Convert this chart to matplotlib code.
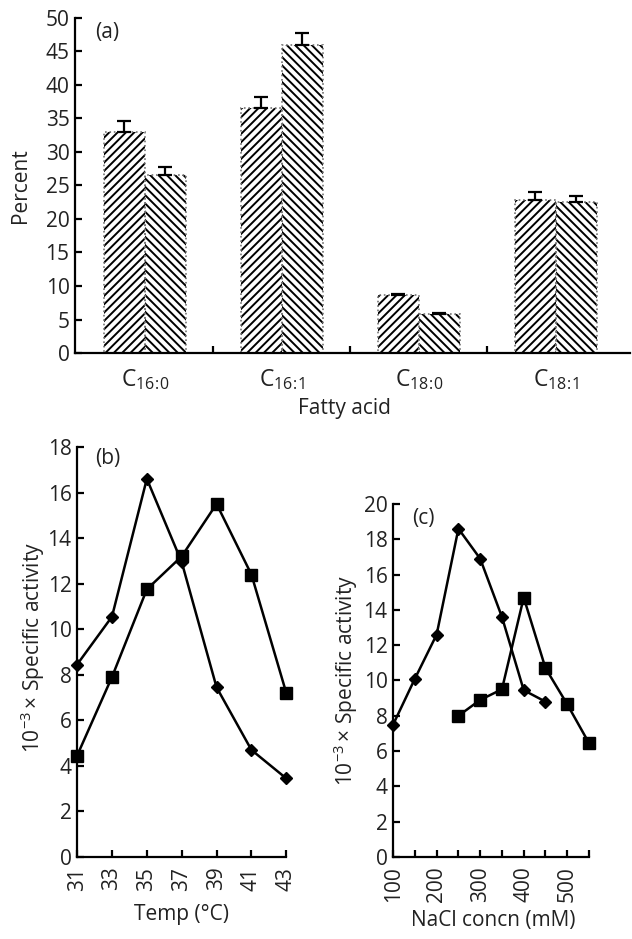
import matplotlib
matplotlib.use('Agg')
import matplotlib.pyplot as plt
import numpy as np

plt.rcParams['font.family'] = ['Open Sans', 'DejaVu Sans']
plt.rcParams['mathtext.default'] = 'regular'
plt.rcParams['hatch.linewidth'] = 1.4
plt.rcParams['font.size'] = 15

# (a) fatty acid composition
acids = ['C$_{16\\!:\\!0}$', 'C$_{16\\!:\\!1}$', 'C$_{18\\!:\\!0}$', 'C$_{18\\!:\\!1}$']
pct_1 = [32.9, 36.5, 8.6, 22.9]
err_1 = [1.7, 1.7, 0.25, 1.1]
pct_2 = [26.6, 46.0, 5.8, 22.6]
err_2 = [1.1, 1.8, 0.15, 0.8]

# (b) temperature
temp = [31, 33, 35, 37, 39, 41, 43]
temp_diamond = [8.45, 10.55, 16.6, 12.95, 7.45, 4.7, 3.45]
temp_square = [4.45, 7.9, 11.75, 13.2, 15.5, 12.4, 7.2]

# (c) NaCl
nacl_diamond_x = [100, 150, 200, 250, 300, 350, 400, 450]
nacl_diamond = [7.5, 10.1, 12.6, 18.6, 16.9, 13.6, 9.45, 8.8]
nacl_square_x = [250, 300, 350, 400, 450, 500, 550]
nacl_square = [8.0, 8.9, 9.5, 14.7, 10.7, 8.65, 6.45]

ylab = '10$^{-3}$\u2009\u00d7 Specific activity'
TXT = '#222222'


def style_axes(ax):
    for s in ['top', 'right']:
        ax.spines[s].set_visible(False)
    for s in ['left', 'bottom']:
        ax.spines[s].set_linewidth(1.6)
    ax.tick_params(direction='in', length=5, width=1.6, labelsize=15,
                   colors='black', labelcolor=TXT, pad=4)


def put_labels(ax, xl, xpos, yl, ypos):
    ax.set_xlabel(xl, fontsize=15, color=TXT)
    ax.xaxis.set_label_coords(*xpos)
    ax.xaxis.label.set_va('center')
    ax.set_ylabel(yl, fontsize=15, color=TXT)
    ax.yaxis.set_label_coords(*ypos)
    ax.yaxis.label.set_va('center')


fig = plt.figure(figsize=(6.32, 9.39), dpi=100)

# ---- panel (a)
ax = fig.add_axes([0.1187, 0.624, 0.878, 0.357])
style_axes(ax)
x = np.arange(len(acids))
w = 0.3
ax.bar(x - w / 2, pct_1, w, color='white', edgecolor='black', linewidth=0, hatch='////')
ax.bar(x + w / 2, pct_2, w, color='white', edgecolor='black', linewidth=0, hatch='\\\\\\\\')
ax.bar(x - w / 2, pct_1, w, fill=False, edgecolor='0.45', linewidth=1.2, linestyle=':')
ax.bar(x + w / 2, pct_2, w, fill=False, edgecolor='0.45', linewidth=1.2, linestyle=':')
ax.errorbar(x - w / 2, pct_1, yerr=[np.zeros(4), err_1], fmt='none', ecolor='black',
            elinewidth=1.6, capsize=5, capthick=1.6)
ax.errorbar(x + w / 2, pct_2, yerr=[np.zeros(4), err_2], fmt='none', ecolor='black',
            elinewidth=1.6, capsize=5, capthick=1.6)
ax.set_xlim(-0.51, 3.54)
ax.set_ylim(0, 50)
ax.set_yticks(np.arange(0, 51, 5))
ax.set_xticks(x)
ax.set_xticklabels(acids, fontsize=16.5)
ax.tick_params(axis='x', length=0, pad=10)
ax.set_xticks([0.5, 1.5, 2.5], minor=True)
ax.tick_params(axis='x', which='minor', direction='in', length=5, width=1.6)
put_labels(ax, 'Fatty acid', (0.486, -0.164), 'Percent', (-0.099, 0.5))
ax.text(0.036, 0.955, '(a)', transform=ax.transAxes, fontsize=15, va='center', color=TXT)

# ---- panel (b)
bx = fig.add_axes([0.122, 0.0873, 0.331, 0.4367])
style_axes(bx)
bx.plot(temp, temp_diamond, color='black', lw=1.8, marker='D', ms=6, clip_on=False)
bx.plot(temp, temp_square, color='black', lw=1.8, marker='s', ms=9, clip_on=False)
bx.set_xlim(31, 43)
bx.set_ylim(0, 18)
bx.set_yticks(np.arange(0, 19, 2))
bx.set_xticks(temp)
bx.set_xticklabels([str(t) for t in temp], rotation=90)
bx.tick_params(axis='x', pad=7)
put_labels(bx, 'Temp (\u00b0C)', (0.5, -0.141), ylab, (-0.21, 0.512))
bx.text(0.086, 0.973, '(b)', transform=bx.transAxes, fontsize=15, va='center', color=TXT)

# ---- panel (c)
cx = fig.add_axes([0.622, 0.0873, 0.31, 0.376])
style_axes(cx)
cx.plot(nacl_diamond_x, nacl_diamond, color='black', lw=1.8, marker='D', ms=6, clip_on=False)
cx.plot(nacl_square_x, nacl_square, color='black', lw=1.8, marker='s', ms=9, clip_on=False)
cx.set_xlim(100, 550)
cx.set_ylim(0, 20)
cx.set_yticks(np.arange(0, 21, 2))
cx.set_xticks([100, 200, 300, 400, 500])
cx.set_xticklabels(['100', '200', '300', '400', '500'], rotation=90)
cx.set_xticks(np.arange(150, 551, 100), minor=True)
cx.tick_params(axis='x', which='minor', direction='in', length=5, width=1.6)
cx.tick_params(axis='x', pad=7)
put_labels(cx, 'NaCl concn (mM)', (0.51, -0.18), ylab, (-0.24, 0.5))
cx.text(0.097, 0.96, '(c)', transform=cx.transAxes, fontsize=15, va='center', color=TXT)

fig.savefig('out.png', dpi=100)
